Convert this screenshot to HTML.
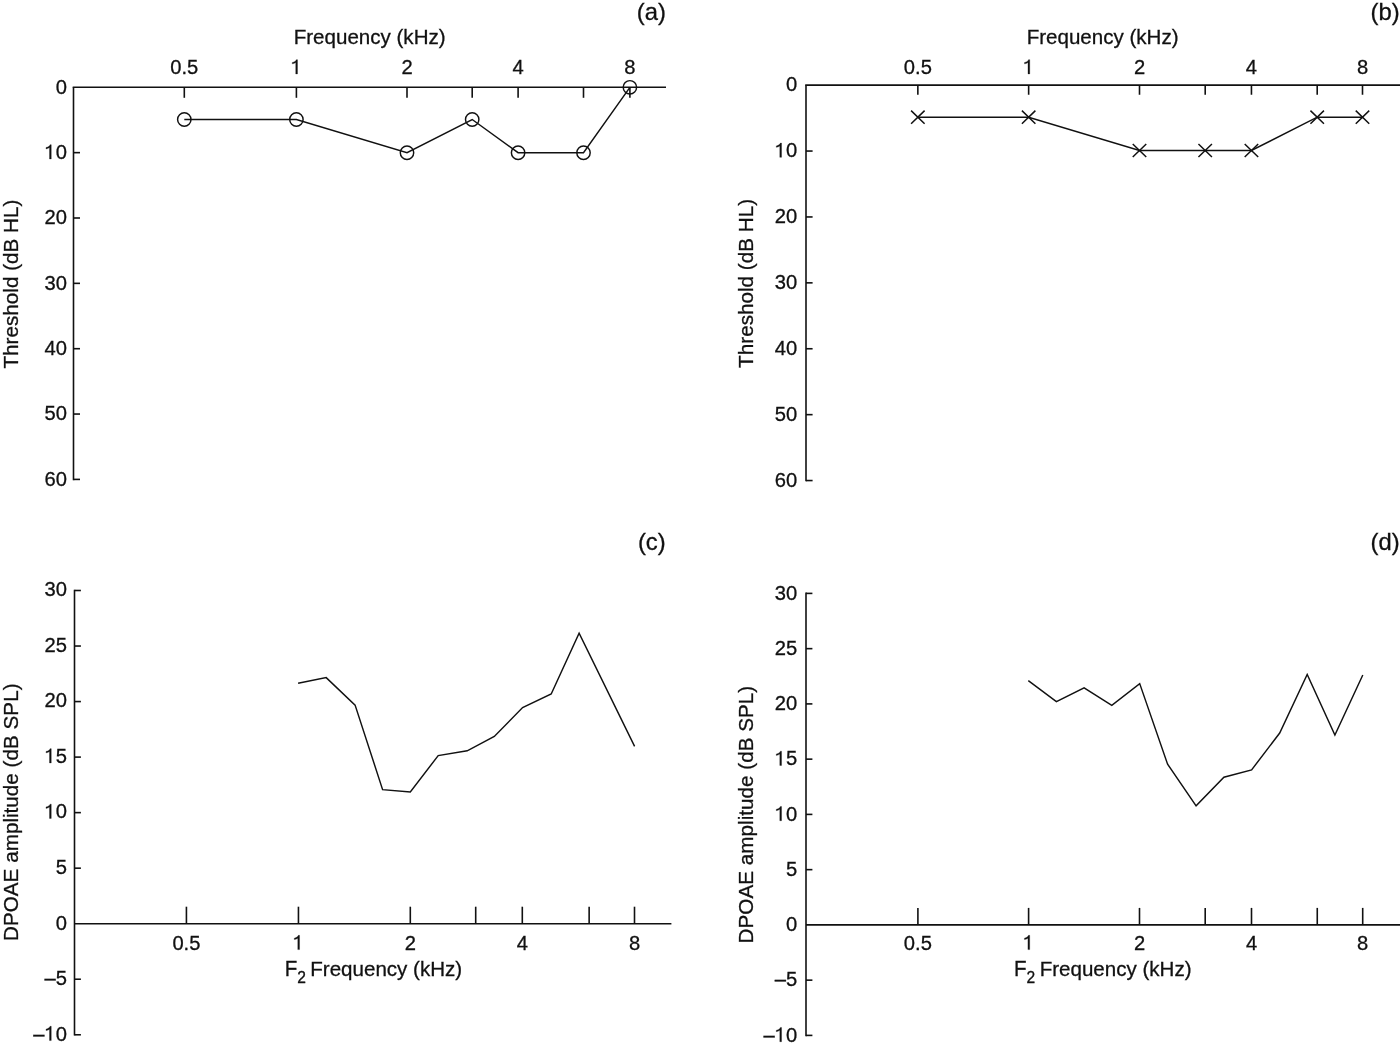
<!DOCTYPE html>
<html><head><meta charset="utf-8"><style>
html,body{margin:0;padding:0;background:#fff;}
body{width:1400px;height:1047px;overflow:hidden;}
svg{display:block;font-family:"Liberation Sans", sans-serif;fill:#111;will-change:transform;} text{stroke:#111;stroke-width:0.3px;}
</style></head><body>
<svg width="1400" height="1047" viewBox="0 0 1400 1047">

<line x1="72.70" y1="87.30" x2="666.00" y2="87.30" stroke="#111" stroke-width="1.6"/>
<line x1="73.50" y1="87.30" x2="73.50" y2="480.20" stroke="#111" stroke-width="1.6"/>
<g transform="translate(55.77,93.60) scale(1,1.045)"><text x="0.00" y="0" font-size="20.2">0</text></g>
<line x1="73.50" y1="152.65" x2="80.00" y2="152.65" stroke="#111" stroke-width="1.6"/>
<g transform="translate(44.54,158.95) scale(1,1.045)"><path d="M332,0L332,675L272,675C258,628 215,575 72,540L72,476C195,492 238,528 246,552L246,0Z" transform="translate(0.00,0) scale(0.02020,-0.02020)" fill="#111" stroke="#111" stroke-width="14.9"/><text x="11.23" y="0" font-size="20.2">0</text></g>
<line x1="73.50" y1="218.00" x2="80.00" y2="218.00" stroke="#111" stroke-width="1.6"/>
<g transform="translate(44.54,224.30) scale(1,1.045)"><text x="0.00" y="0" font-size="20.2">20</text></g>
<line x1="73.50" y1="283.35" x2="80.00" y2="283.35" stroke="#111" stroke-width="1.6"/>
<g transform="translate(44.54,289.65) scale(1,1.045)"><text x="0.00" y="0" font-size="20.2">30</text></g>
<line x1="73.50" y1="348.70" x2="80.00" y2="348.70" stroke="#111" stroke-width="1.6"/>
<g transform="translate(44.54,355.00) scale(1,1.045)"><text x="0.00" y="0" font-size="20.2">40</text></g>
<line x1="73.50" y1="414.05" x2="80.00" y2="414.05" stroke="#111" stroke-width="1.6"/>
<g transform="translate(44.54,420.35) scale(1,1.045)"><text x="0.00" y="0" font-size="20.2">50</text></g>
<line x1="73.50" y1="479.40" x2="80.00" y2="479.40" stroke="#111" stroke-width="1.6"/>
<g transform="translate(44.54,485.70) scale(1,1.045)"><text x="0.00" y="0" font-size="20.2">60</text></g>
<line x1="184.30" y1="87.30" x2="184.30" y2="97.80" stroke="#111" stroke-width="1.6"/>
<g transform="translate(170.26,73.90) scale(1,1.045)"><text x="0.00" y="0" font-size="20.2">0.5</text></g>
<line x1="296.40" y1="87.30" x2="296.40" y2="97.80" stroke="#111" stroke-width="1.6"/>
<g transform="translate(290.78,73.90) scale(1,1.045)"><path d="M332,0L332,675L272,675C258,628 215,575 72,540L72,476C195,492 238,528 246,552L246,0Z" transform="translate(0.00,0) scale(0.02020,-0.02020)" fill="#111" stroke="#111" stroke-width="14.9"/></g>
<line x1="407.00" y1="87.30" x2="407.00" y2="97.80" stroke="#111" stroke-width="1.6"/>
<g transform="translate(401.38,73.90) scale(1,1.045)"><text x="0.00" y="0" font-size="20.2">2</text></g>
<line x1="472.20" y1="87.30" x2="472.20" y2="97.80" stroke="#111" stroke-width="1.6"/>
<line x1="518.10" y1="87.30" x2="518.10" y2="97.80" stroke="#111" stroke-width="1.6"/>
<g transform="translate(512.48,73.90) scale(1,1.045)"><text x="0.00" y="0" font-size="20.2">4</text></g>
<line x1="583.50" y1="87.30" x2="583.50" y2="97.80" stroke="#111" stroke-width="1.6"/>
<line x1="629.90" y1="87.30" x2="629.90" y2="97.80" stroke="#111" stroke-width="1.6"/>
<g transform="translate(624.28,73.90) scale(1,1.045)"><text x="0.00" y="0" font-size="20.2">8</text></g>
<text transform="translate(369.65,43.90) scale(1,1.0)" font-size="20.55" text-anchor="middle">Frequency (kHz)</text>
<text transform="translate(17.90,284.10) rotate(-90)" font-size="20.7" text-anchor="middle">Threshold (dB HL)</text>
<text x="636.80" y="19.8" font-size="23.8">(a)</text>
<polyline points="184.30,119.50 296.40,119.50 407.00,152.70 472.20,119.50 518.10,152.70 583.50,152.70 629.90,87.30" fill="none" stroke="#111" stroke-width="1.45" stroke-linejoin="miter"/>
<circle cx="184.30" cy="119.50" r="6.7" fill="none" stroke="#111" stroke-width="1.45"/>
<circle cx="296.40" cy="119.50" r="6.7" fill="none" stroke="#111" stroke-width="1.45"/>
<circle cx="407.00" cy="152.70" r="6.7" fill="none" stroke="#111" stroke-width="1.45"/>
<circle cx="472.20" cy="119.50" r="6.7" fill="none" stroke="#111" stroke-width="1.45"/>
<circle cx="518.10" cy="152.70" r="6.7" fill="none" stroke="#111" stroke-width="1.45"/>
<circle cx="583.50" cy="152.70" r="6.7" fill="none" stroke="#111" stroke-width="1.45"/>
<circle cx="629.90" cy="87.30" r="6.7" fill="none" stroke="#111" stroke-width="1.45"/>
<line x1="805.20" y1="85.15" x2="1400.00" y2="85.15" stroke="#111" stroke-width="1.6"/>
<line x1="806.00" y1="85.15" x2="806.00" y2="481.35" stroke="#111" stroke-width="1.6"/>
<g transform="translate(786.07,91.45) scale(1,1.045)"><text x="0.00" y="0" font-size="20.2">0</text></g>
<line x1="806.00" y1="151.05" x2="812.60" y2="151.05" stroke="#111" stroke-width="1.6"/>
<g transform="translate(774.84,157.35) scale(1,1.045)"><path d="M332,0L332,675L272,675C258,628 215,575 72,540L72,476C195,492 238,528 246,552L246,0Z" transform="translate(0.00,0) scale(0.02020,-0.02020)" fill="#111" stroke="#111" stroke-width="14.9"/><text x="11.23" y="0" font-size="20.2">0</text></g>
<line x1="806.00" y1="216.95" x2="812.60" y2="216.95" stroke="#111" stroke-width="1.6"/>
<g transform="translate(774.84,223.25) scale(1,1.045)"><text x="0.00" y="0" font-size="20.2">20</text></g>
<line x1="806.00" y1="282.85" x2="812.60" y2="282.85" stroke="#111" stroke-width="1.6"/>
<g transform="translate(774.84,289.15) scale(1,1.045)"><text x="0.00" y="0" font-size="20.2">30</text></g>
<line x1="806.00" y1="348.75" x2="812.60" y2="348.75" stroke="#111" stroke-width="1.6"/>
<g transform="translate(774.84,355.05) scale(1,1.045)"><text x="0.00" y="0" font-size="20.2">40</text></g>
<line x1="806.00" y1="414.65" x2="812.60" y2="414.65" stroke="#111" stroke-width="1.6"/>
<g transform="translate(774.84,420.95) scale(1,1.045)"><text x="0.00" y="0" font-size="20.2">50</text></g>
<line x1="806.00" y1="480.55" x2="812.60" y2="480.55" stroke="#111" stroke-width="1.6"/>
<g transform="translate(774.84,486.85) scale(1,1.045)"><text x="0.00" y="0" font-size="20.2">60</text></g>
<line x1="917.85" y1="85.15" x2="917.85" y2="94.75" stroke="#111" stroke-width="1.6"/>
<g transform="translate(903.81,73.90) scale(1,1.045)"><text x="0.00" y="0" font-size="20.2">0.5</text></g>
<line x1="1028.65" y1="85.15" x2="1028.65" y2="94.75" stroke="#111" stroke-width="1.6"/>
<g transform="translate(1023.03,73.90) scale(1,1.045)"><path d="M332,0L332,675L272,675C258,628 215,575 72,540L72,476C195,492 238,528 246,552L246,0Z" transform="translate(0.00,0) scale(0.02020,-0.02020)" fill="#111" stroke="#111" stroke-width="14.9"/></g>
<line x1="1139.50" y1="85.15" x2="1139.50" y2="94.75" stroke="#111" stroke-width="1.6"/>
<g transform="translate(1133.88,73.90) scale(1,1.045)"><text x="0.00" y="0" font-size="20.2">2</text></g>
<line x1="1205.20" y1="85.15" x2="1205.20" y2="94.75" stroke="#111" stroke-width="1.6"/>
<line x1="1251.45" y1="85.15" x2="1251.45" y2="94.75" stroke="#111" stroke-width="1.6"/>
<g transform="translate(1245.83,73.90) scale(1,1.045)"><text x="0.00" y="0" font-size="20.2">4</text></g>
<line x1="1317.20" y1="85.15" x2="1317.20" y2="94.75" stroke="#111" stroke-width="1.6"/>
<line x1="1362.50" y1="85.15" x2="1362.50" y2="94.75" stroke="#111" stroke-width="1.6"/>
<g transform="translate(1356.88,73.90) scale(1,1.045)"><text x="0.00" y="0" font-size="20.2">8</text></g>
<text transform="translate(1102.60,44.20) scale(1,1.0)" font-size="20.55" text-anchor="middle">Frequency (kHz)</text>
<text transform="translate(752.90,283.40) rotate(-90)" font-size="20.7" text-anchor="middle">Threshold (dB HL)</text>
<text x="1370.50" y="19.8" font-size="23.8">(b)</text>
<polyline points="917.85,117.20 1028.65,117.20 1139.50,150.50 1205.20,150.50 1251.45,150.50 1317.20,117.20 1362.50,117.20" fill="none" stroke="#111" stroke-width="1.45" stroke-linejoin="miter"/>
<path d="M911.10,110.65L924.60,123.75M911.10,123.75L924.60,110.65" stroke="#111" stroke-width="1.5" fill="none"/>
<path d="M1021.90,110.65L1035.40,123.75M1021.90,123.75L1035.40,110.65" stroke="#111" stroke-width="1.5" fill="none"/>
<path d="M1132.75,143.95L1146.25,157.05M1132.75,157.05L1146.25,143.95" stroke="#111" stroke-width="1.5" fill="none"/>
<path d="M1198.45,143.95L1211.95,157.05M1198.45,157.05L1211.95,143.95" stroke="#111" stroke-width="1.5" fill="none"/>
<path d="M1244.70,143.95L1258.20,157.05M1244.70,157.05L1258.20,143.95" stroke="#111" stroke-width="1.5" fill="none"/>
<path d="M1310.45,110.65L1323.95,123.75M1310.45,123.75L1323.95,110.65" stroke="#111" stroke-width="1.5" fill="none"/>
<path d="M1355.75,110.65L1369.25,123.75M1355.75,123.75L1369.25,110.65" stroke="#111" stroke-width="1.5" fill="none"/>
<line x1="74.50" y1="923.70" x2="671.40" y2="923.70" stroke="#111" stroke-width="1.6"/>
<line x1="74.50" y1="589.70" x2="74.50" y2="1035.40" stroke="#111" stroke-width="1.6"/>
<line x1="74.50" y1="590.50" x2="80.90" y2="590.50" stroke="#111" stroke-width="1.6"/>
<g transform="translate(44.54,596.30) scale(1,1.045)"><text x="0.00" y="0" font-size="20.2">30</text></g>
<line x1="74.50" y1="646.03" x2="80.90" y2="646.03" stroke="#111" stroke-width="1.6"/>
<g transform="translate(44.54,651.83) scale(1,1.045)"><text x="0.00" y="0" font-size="20.2">25</text></g>
<line x1="74.50" y1="701.57" x2="80.90" y2="701.57" stroke="#111" stroke-width="1.6"/>
<g transform="translate(44.54,707.37) scale(1,1.045)"><text x="0.00" y="0" font-size="20.2">20</text></g>
<line x1="74.50" y1="757.10" x2="80.90" y2="757.10" stroke="#111" stroke-width="1.6"/>
<g transform="translate(44.54,762.90) scale(1,1.045)"><path d="M332,0L332,675L272,675C258,628 215,575 72,540L72,476C195,492 238,528 246,552L246,0Z" transform="translate(0.00,0) scale(0.02020,-0.02020)" fill="#111" stroke="#111" stroke-width="14.9"/><text x="11.23" y="0" font-size="20.2">5</text></g>
<line x1="74.50" y1="812.63" x2="80.90" y2="812.63" stroke="#111" stroke-width="1.6"/>
<g transform="translate(44.54,818.43) scale(1,1.045)"><path d="M332,0L332,675L272,675C258,628 215,575 72,540L72,476C195,492 238,528 246,552L246,0Z" transform="translate(0.00,0) scale(0.02020,-0.02020)" fill="#111" stroke="#111" stroke-width="14.9"/><text x="11.23" y="0" font-size="20.2">0</text></g>
<line x1="74.50" y1="868.17" x2="80.90" y2="868.17" stroke="#111" stroke-width="1.6"/>
<g transform="translate(55.77,873.97) scale(1,1.045)"><text x="0.00" y="0" font-size="20.2">5</text></g>
<g transform="translate(55.77,929.50) scale(1,1.045)"><text x="0.00" y="0" font-size="20.2">0</text></g>
<line x1="74.50" y1="979.23" x2="80.90" y2="979.23" stroke="#111" stroke-width="1.6"/>
<g transform="translate(44.54,985.03) scale(1,1.045)"><text x="0.00" y="0" font-size="20.2">–5</text></g>
<line x1="74.50" y1="1034.77" x2="80.90" y2="1034.77" stroke="#111" stroke-width="1.6"/>
<g transform="translate(33.31,1040.57) scale(1,1.045)"><text x="0.00" y="0" font-size="20.2">–</text><path d="M332,0L332,675L272,675C258,628 215,575 72,540L72,476C195,492 238,528 246,552L246,0Z" transform="translate(11.23,0) scale(0.02020,-0.02020)" fill="#111" stroke="#111" stroke-width="14.9"/><text x="22.46" y="0" font-size="20.2">0</text></g>
<line x1="186.42" y1="923.70" x2="186.42" y2="906.70" stroke="#111" stroke-width="1.6"/>
<g transform="translate(172.38,949.60) scale(1,1.045)"><text x="0.00" y="0" font-size="20.2">0.5</text></g>
<line x1="298.45" y1="923.70" x2="298.45" y2="906.70" stroke="#111" stroke-width="1.6"/>
<g transform="translate(292.83,949.60) scale(1,1.045)"><path d="M332,0L332,675L272,675C258,628 215,575 72,540L72,476C195,492 238,528 246,552L246,0Z" transform="translate(0.00,0) scale(0.02020,-0.02020)" fill="#111" stroke="#111" stroke-width="14.9"/></g>
<line x1="410.30" y1="923.70" x2="410.30" y2="906.70" stroke="#111" stroke-width="1.6"/>
<g transform="translate(404.68,949.60) scale(1,1.045)"><text x="0.00" y="0" font-size="20.2">2</text></g>
<line x1="475.70" y1="923.70" x2="475.70" y2="906.70" stroke="#111" stroke-width="1.6"/>
<line x1="522.30" y1="923.70" x2="522.30" y2="906.70" stroke="#111" stroke-width="1.6"/>
<g transform="translate(516.68,949.60) scale(1,1.045)"><text x="0.00" y="0" font-size="20.2">4</text></g>
<line x1="589.14" y1="923.70" x2="589.14" y2="906.70" stroke="#111" stroke-width="1.6"/>
<line x1="634.50" y1="923.70" x2="634.50" y2="906.70" stroke="#111" stroke-width="1.6"/>
<g transform="translate(628.88,949.60) scale(1,1.045)"><text x="0.00" y="0" font-size="20.2">8</text></g>
<text transform="translate(284.70,975.80) scale(1,1.045)" font-size="20.55" text-anchor="start">F</text>
<text transform="translate(297.20,982.70) scale(1,1.045)" font-size="15.6" text-anchor="start">2</text>
<text transform="translate(310.30,975.80) scale(1,1.0)" font-size="20.55" text-anchor="start">Frequency (kHz)</text>
<text transform="translate(17.60,812.25) rotate(-90)" font-size="20.7" text-anchor="middle">DPOAE amplitude (dB SPL)</text>
<text x="637.90" y="549.80" font-size="23.8">(c)</text>
<polyline points="298.10,683.20 326.20,677.60 355.10,705.10 382.60,789.60 410.30,792.00 438.20,755.60 467.20,750.80 494.30,736.50 522.60,707.60 551.20,694.00 579.10,633.30 634.60,746.40" fill="none" stroke="#111" stroke-width="1.45" stroke-linejoin="miter"/>
<line x1="806.00" y1="924.90" x2="1400.00" y2="924.90" stroke="#111" stroke-width="1.6"/>
<line x1="806.00" y1="592.60" x2="806.00" y2="1036.30" stroke="#111" stroke-width="1.6"/>
<line x1="806.00" y1="593.40" x2="812.40" y2="593.40" stroke="#111" stroke-width="1.6"/>
<g transform="translate(774.84,599.70) scale(1,1.045)"><text x="0.00" y="0" font-size="20.2">30</text></g>
<line x1="806.00" y1="648.65" x2="812.40" y2="648.65" stroke="#111" stroke-width="1.6"/>
<g transform="translate(774.84,654.95) scale(1,1.045)"><text x="0.00" y="0" font-size="20.2">25</text></g>
<line x1="806.00" y1="703.90" x2="812.40" y2="703.90" stroke="#111" stroke-width="1.6"/>
<g transform="translate(774.84,710.20) scale(1,1.045)"><text x="0.00" y="0" font-size="20.2">20</text></g>
<line x1="806.00" y1="759.15" x2="812.40" y2="759.15" stroke="#111" stroke-width="1.6"/>
<g transform="translate(774.84,765.45) scale(1,1.045)"><path d="M332,0L332,675L272,675C258,628 215,575 72,540L72,476C195,492 238,528 246,552L246,0Z" transform="translate(0.00,0) scale(0.02020,-0.02020)" fill="#111" stroke="#111" stroke-width="14.9"/><text x="11.23" y="0" font-size="20.2">5</text></g>
<line x1="806.00" y1="814.40" x2="812.40" y2="814.40" stroke="#111" stroke-width="1.6"/>
<g transform="translate(774.84,820.70) scale(1,1.045)"><path d="M332,0L332,675L272,675C258,628 215,575 72,540L72,476C195,492 238,528 246,552L246,0Z" transform="translate(0.00,0) scale(0.02020,-0.02020)" fill="#111" stroke="#111" stroke-width="14.9"/><text x="11.23" y="0" font-size="20.2">0</text></g>
<line x1="806.00" y1="869.65" x2="812.40" y2="869.65" stroke="#111" stroke-width="1.6"/>
<g transform="translate(786.07,875.95) scale(1,1.045)"><text x="0.00" y="0" font-size="20.2">5</text></g>
<g transform="translate(786.07,931.20) scale(1,1.045)"><text x="0.00" y="0" font-size="20.2">0</text></g>
<line x1="806.00" y1="980.15" x2="812.40" y2="980.15" stroke="#111" stroke-width="1.6"/>
<g transform="translate(774.84,986.45) scale(1,1.045)"><text x="0.00" y="0" font-size="20.2">–5</text></g>
<line x1="806.00" y1="1035.40" x2="812.40" y2="1035.40" stroke="#111" stroke-width="1.6"/>
<g transform="translate(763.61,1041.70) scale(1,1.045)"><text x="0.00" y="0" font-size="20.2">–</text><path d="M332,0L332,675L272,675C258,628 215,575 72,540L72,476C195,492 238,528 246,552L246,0Z" transform="translate(11.23,0) scale(0.02020,-0.02020)" fill="#111" stroke="#111" stroke-width="14.9"/><text x="22.46" y="0" font-size="20.2">0</text></g>
<line x1="917.90" y1="924.90" x2="917.90" y2="907.90" stroke="#111" stroke-width="1.6"/>
<g transform="translate(903.86,949.60) scale(1,1.045)"><text x="0.00" y="0" font-size="20.2">0.5</text></g>
<line x1="1028.60" y1="924.90" x2="1028.60" y2="907.90" stroke="#111" stroke-width="1.6"/>
<g transform="translate(1022.98,949.60) scale(1,1.045)"><path d="M332,0L332,675L272,675C258,628 215,575 72,540L72,476C195,492 238,528 246,552L246,0Z" transform="translate(0.00,0) scale(0.02020,-0.02020)" fill="#111" stroke="#111" stroke-width="14.9"/></g>
<line x1="1139.50" y1="924.90" x2="1139.50" y2="907.90" stroke="#111" stroke-width="1.6"/>
<g transform="translate(1133.88,949.60) scale(1,1.045)"><text x="0.00" y="0" font-size="20.2">2</text></g>
<line x1="1205.20" y1="924.90" x2="1205.20" y2="907.90" stroke="#111" stroke-width="1.6"/>
<line x1="1251.50" y1="924.90" x2="1251.50" y2="907.90" stroke="#111" stroke-width="1.6"/>
<g transform="translate(1245.88,949.60) scale(1,1.045)"><text x="0.00" y="0" font-size="20.2">4</text></g>
<line x1="1317.26" y1="924.90" x2="1317.26" y2="907.90" stroke="#111" stroke-width="1.6"/>
<line x1="1362.70" y1="924.90" x2="1362.70" y2="907.90" stroke="#111" stroke-width="1.6"/>
<g transform="translate(1357.08,949.60) scale(1,1.045)"><text x="0.00" y="0" font-size="20.2">8</text></g>
<text transform="translate(1014.10,975.80) scale(1,1.045)" font-size="20.55" text-anchor="start">F</text>
<text transform="translate(1026.60,982.70) scale(1,1.045)" font-size="15.6" text-anchor="start">2</text>
<text transform="translate(1039.70,975.80) scale(1,1.0)" font-size="20.55" text-anchor="start">Frequency (kHz)</text>
<text transform="translate(752.80,814.60) rotate(-90)" font-size="20.7" text-anchor="middle">DPOAE amplitude (dB SPL)</text>
<text x="1370.50" y="550.00" font-size="23.8">(d)</text>
<polyline points="1028.30,680.70 1056.40,701.70 1084.10,687.80 1111.80,705.30 1139.70,683.60 1167.60,764.20 1196.10,805.80 1223.90,777.20 1251.60,769.90 1279.70,733.00 1307.20,674.40 1334.90,735.10 1362.80,675.00" fill="none" stroke="#111" stroke-width="1.45" stroke-linejoin="miter"/>
</svg>
</body></html>
